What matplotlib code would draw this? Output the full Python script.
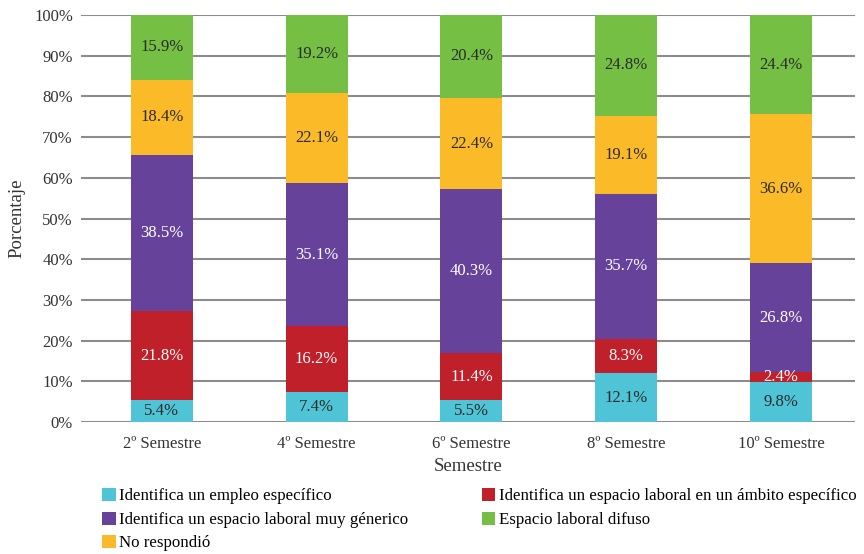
import matplotlib
matplotlib.use("Agg")
import matplotlib.pyplot as plt
import numpy as np

plt.rcParams['font.family'] = ['Liberation Serif', 'DejaVu Serif']

semestres = ["2º Semestre", "4º Semestre", "6º Semestre", "8º Semestre", "10º Semestre"]

empleo_especifico = [5.4, 7.4, 5.5, 12.1, 9.8]
ambito_especifico = [21.8, 16.2, 11.4, 8.3, 2.4]
muy_generico = [38.5, 35.1, 40.3, 35.7, 26.8]
no_respondio = [18.4, 22.1, 22.4, 19.1, 36.6]
difuso = [15.9, 19.2, 20.4, 24.8, 24.4]

series = [
    ("Identifica un empleo específico", empleo_especifico, "#4FC4D6", "#2a2a2a"),
    ("Identifica un espacio laboral en un ámbito específico", ambito_especifico, "#C0202A", "white"),
    ("Identifica un espacio laboral muy génerico", muy_generico, "#66429A", "white"),
    ("No respondió", no_respondio, "#FBBA28", "#2a2a2a"),
    ("Espacio laboral difuso", difuso, "#75BF44", "#2a2a2a"),
]

fig = plt.figure(figsize=(8.64, 5.54), dpi=100)
ax = fig.add_axes([0.094, 0.238, 0.896, 0.735])

x = np.arange(len(semestres))
bottom = np.zeros(len(semestres))
handles = {}
for name, vals, color, tcolor in series:
    vals = np.array(vals)
    bars = ax.bar(x, vals, 0.4, bottom=bottom, color=color, zorder=3, label=name)
    handles[name] = bars
    for xi, b, v in zip(x, bottom, vals):
        ax.text(xi, b + v / 2, f"{v:.1f}%", ha="center", va="center",
                color=tcolor, fontsize=12, zorder=4)
    bottom += vals

ax.set_ylim(0, 100)
ax.set_xlim(-0.52, 4.48)
ax.set_yticks(np.arange(0, 101, 10))
ax.set_yticklabels([f"{v}%" for v in range(0, 101, 10)], fontsize=12, color="#333333")
ax.set_xticks(x)
ax.set_xticklabels(semestres, fontsize=12, color="#333333")
ax.tick_params(axis="x", length=0, pad=10)
ax.tick_params(axis="y", length=0, pad=6)
ax.yaxis.grid(True, color="#8c8c8c", linewidth=1.5, zorder=0)
for s in ax.spines.values():
    s.set_visible(False)
ax.set_ylabel("Porcentaje", fontsize=13.5, color="#333333", labelpad=6)
ax.set_xlabel("Semestre", fontsize=13.5, color="#333333", labelpad=4)

order = [series[0][0], series[2][0], series[3][0], series[1][0], series[4][0]]
fig.legend([handles[n] for n in order], order, loc="upper left",
           bbox_to_anchor=(0.118, 0.119), ncol=2, frameon=False,
           fontsize=12.2, handlelength=0.8, handleheight=0.8,
           handletextpad=0.2, columnspacing=4.35, labelspacing=0.42,
           borderaxespad=0, borderpad=0)

fig.savefig("out.png", dpi=100)
